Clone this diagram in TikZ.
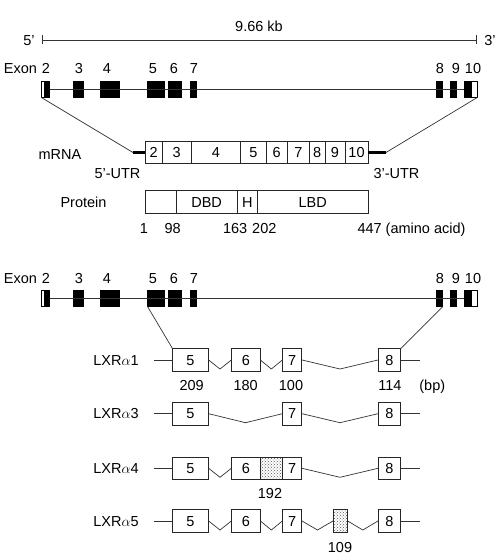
\documentclass[tikz,border=0pt]{standalone}
\usepackage{fontspec}
\setmainfont{Liberation Sans}
\usetikzlibrary{arrows.meta,calc,patterns}
\tikzset{exon/.style={draw=black,fill=black,inner sep=0pt,
                      minimum height=16,line width=0.6pt}}
\tikzset{utrbox/.style={exon,fill=white}}
\tikzset{seg/.style={draw=black!85,fill=white,inner sep=0pt,
                     minimum height=22.6,line width=0.7pt}}
\tikzset{insert/.style={seg,preaction={fill=white},
                        pattern=crosshatch dots,pattern color=black!65}}
\tikzset{conn/.style={draw=black!80,line width=0.7pt}}
\tikzset{utr/.style={draw=black,line width=2.4pt}}
\newcommand{\splice}[2]{\draw[conn] (#1.east) --
  ($(#1.east)!.5!(#2.west)+(0,9)$) -- (#2.west);}

\begin{document}
\begin{tikzpicture}[x=1pt,y=-1pt,
    every node/.style={inner sep=0pt,text height=10pt,text depth=0pt,
                       font=\fontsize{14.5}{16}\selectfont}
  ]
    \useasboundingbox (0,0) rectangle (496,559);

    % genomic scale
    \coordinate (k5) at (42,40);
    \coordinate (k3) at (477,40);
    \node (t5) at (29,41) {5'};
    \node (t3) at (490,41) {3'};
    \node (kb) at (259,27) {9.66 kb};
    \draw[conn,{Bar[width=9pt]}-{Bar[width=9pt]}] (k5) -- (k3);

    % the gene, drawn twice
    \foreach \g/\yy in {a/89,b/298}{
      \node[utrbox,minimum width=3.4] (\g2w) at (43,\yy) {};
      \node[exon,minimum width=4.6] (\g2) at (47,\yy) {};
      \foreach \n/\l/\r in {3/73.3/83.3,4/100/119,5/147.7/164,6/168.3/181,
                            7/190/196.7,8/436/442.7,9/450/456.7}
        \node[exon,minimum width=\r-\l] (\g\n) at ({(\l+\r)/2},\yy) {};
      \node[exon,minimum width=7.7] (\g10) at (467.85,\yy) {};
      \node[utrbox,minimum width=5.6] (\g10w) at (474.5,\yy) {};
      \draw[conn] (\g2.east) -- (\g10.west);
      \node (\g ex) at (20.5,\yy-20) {Exon};
      \foreach \n/\x in {2/46,3/79,4/107,5/153,6/174,7/194,8/440,9/456,10/473}
        \node (\g t\n) at (\x,\yy-20) {\n};
    }

    % mRNA
    \node (mlab) at (60,154) {mRNA};
    \foreach \n/\l/\r in {2/145/162.3,3/162.3/191,4/191/240.7,5/240.7/266,
                          6/266/287.3,7/287.3/309.3,8/309.3/325,9/325/345,
                          10/345/368}
      \node[seg,minimum width=\r-\l] (m\n) at ({(\l+\r)/2},152.5) {\n};
    \coordinate (u5) at (133,152.5);
    \coordinate (u3) at (386,152.5);
    \draw[utr] (u5) -- (m2.west);
    \draw[utr] (m10.east) -- (u3);
    \draw[conn] (a2w.south west) -- (u5);
    \draw[conn] (a10w.south east) -- (u3);
    \node (utr5) at (117.5,173) {5'-UTR};
    \node (utr3) at (396.5,173) {3'-UTR};

    % protein
    \node (plab) at (83.5,202) {Protein};
    \node[seg,minimum width=31] (pn) at (160.5,202) {};
    \node[seg,minimum width=61.3] (pdbd) at (206.65,202) {DBD};
    \node[seg,minimum width=20] (ph) at (247.3,202) {H};
    \node[seg,minimum width=110.7] (plbd) at (312.65,202) {LBD};
    \node (aa1) at (144,228) {1};
    \node (aa98) at (172.7,228) {98};
    \node (aa163) at (235.2,228) {163};
    \node (aa202) at (264.3,228) {202};
    \node (aa447) at (411.5,228) {447 (amino acid)};

    % splice variants
    \foreach \row/\yy in {1/360,3/413.7,4/468.3,5/521}{
      \node (lxr\row) at (116,\yy) {LXR$\alpha$\row};
      \node[seg,minimum width=35.6] (r\row x5) at (190.5,\yy) {5};
      \node[seg,minimum width=19] (r\row x7) at (292.2,\yy) {7};
      \node[seg,minimum width=22.4] (r\row x8) at (389.5,\yy) {8};
      \draw[conn] (r\row x5.west) -- ++(-18,0) coordinate (r\row s);
      \draw[conn] (r\row x8.east) -- ++(18.6,0) coordinate (r\row e);
    }
    \foreach \row/\yy in {1/360,4/468.3,5/521}
      \node[seg,minimum width=28.3] (r\row x6) at (245.85,\yy) {6};
    \node[insert,minimum width=22.7] (r4i) at (271.35,468.3) {};
    \node[insert,minimum width=14] (r5i) at (340.3,521) {};

    \draw[conn] (b5.south west) -- (r1x5.north west);
    \draw[conn] (b8.south east) -- (r1x8.north east);

    \splice{r1x5}{r1x6} \splice{r1x6}{r1x7} \splice{r1x7}{r1x8}
    \splice{r3x5}{r3x7} \splice{r3x7}{r3x8}
    \splice{r4x5}{r4x6} \splice{r4x7}{r4x8}
    \splice{r5x5}{r5x6} \splice{r5x6}{r5x7} \splice{r5x7}{r5i}
    \splice{r5i}{r5x8}

    % lengths
    \node (bp209) at (191.7,385) {209};
    \node (bp180) at (245.7,385) {180};
    \node (bp100) at (291,385) {100};
    \node (bp114) at (390,385) {114};
    \node (bpu) at (432.3,385) {(bp)};
    \node (bp192) at (270,493.3) {192};
    \node (bp109) at (340,547.3) {109};
\end{tikzpicture}
\end{document}
